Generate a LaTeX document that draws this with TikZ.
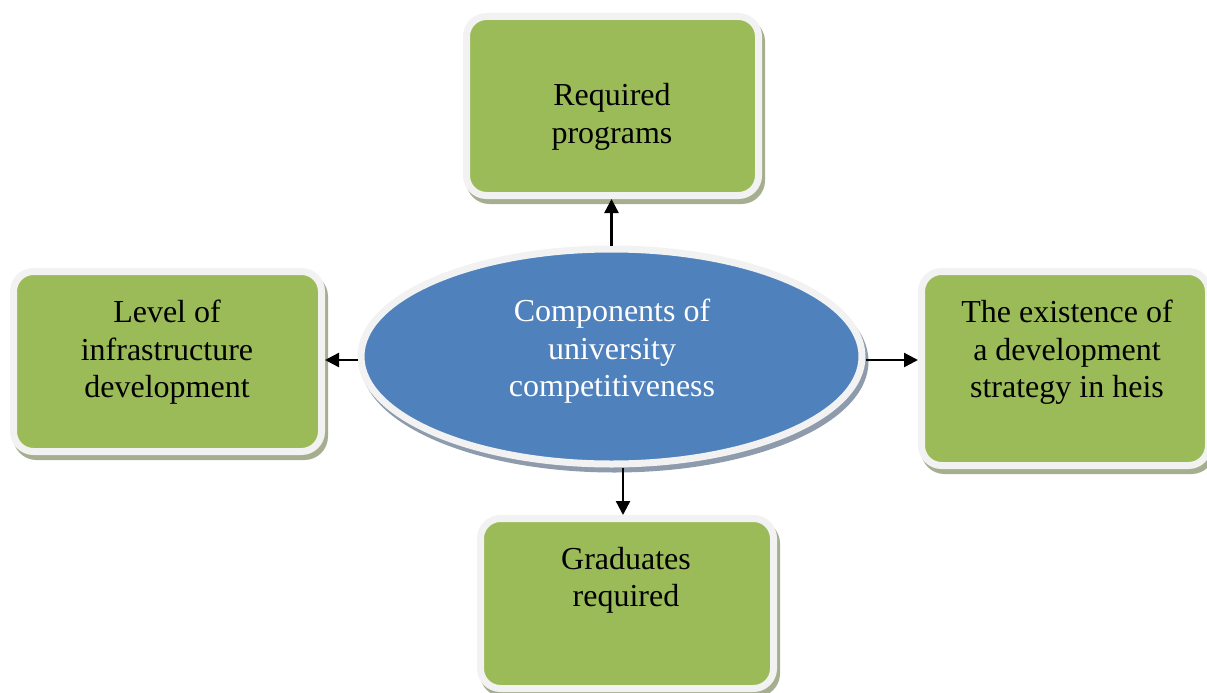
\documentclass[tikz,border=0pt]{standalone}
\usepackage{fontspec}
\setmainfont{Liberation Serif}
\usetikzlibrary{shapes.geometric,shadows,arrows.meta}

\definecolor{boxgreen}{RGB}{155,187,89}
\definecolor{ellblue}{RGB}{79,129,189}
\definecolor{rimgray}{RGB}{242,242,242}
\definecolor{shgreen}{RGB}{165,174,142}
\definecolor{shblue}{RGB}{142,155,173}

\begin{document}
\begin{tikzpicture}[x=1pt,y=1pt,yscale=-1,xscale=1,
  box/.style={rectangle, rounded corners=20pt, fill=boxgreen, draw=rimgray, line width=7pt, inner sep=0pt,
    drop shadow={shadow xshift=3pt, shadow yshift=-5pt, fill=shgreen, draw=shgreen, line width=7pt, opacity=1}},
  ell/.style={ellipse, fill=ellblue, draw=rimgray, line width=7pt, inner sep=0pt,
    drop shadow={shadow xshift=3pt, shadow yshift=-5pt, fill=shblue, draw=shblue, line width=7pt, opacity=1}},
  txt/.style={align=center, font=\fontsize{32}{37.5}\selectfont},
  conn/.style={line width=2.4pt, -{Triangle[length=14pt,width=14pt]}}]
\useasboundingbox (0,0) rectangle (1207,693); %page 1207 x 693

%Shape: Rounded Rect [top]
\node[box, minimum width=292pt, minimum height=179pt] (prog) at (612.5,106) {};
%Shape: Rounded Rect [left]
\node[box, minimum width=308pt, minimum height=180pt] (infra) at (167.5,361.5) {};
%Shape: Rounded Rect [right]
\node[box, minimum width=287pt, minimum height=194pt] (strat) at (1065,368.5) {};
%Shape: Rounded Rect [bottom]
\node[box, minimum width=293pt, minimum height=170pt] (grad) at (627,603.5) {};
%Shape: Ellipse [centre]
\node[ell, minimum width=501pt, minimum height=215pt] (comp) at (611.5,356.5) {};

%Straight Lines
\draw[conn] (comp.north) -- (comp.north |- prog.south);
\coordinate (infraOut) at (comp.west |- 0,360);
\draw[conn] (infraOut) -- (infraOut -| infra.east);
\coordinate (stratOut) at (comp.east |- 0,360);
\draw[conn] (stratOut) -- (stratOut -| strat.west);
\coordinate (gradIn) at ([xshift=11.5pt]comp.south);
\draw[conn] (gradIn) -- (gradIn |- grad.north);

% Text Node
\node[txt] (progT) at (612,117) {Required\\programs};
% Text Node
\node[txt] (infraT) at (167,352.5) {Level of\\infrastructure\\development};
% Text Node
\node[txt] (stratT) at (1067,352.5) {The existence of\\a development\\strategy in heis};
% Text Node
\node[txt] (gradT) at (626,580.5) {Graduates\\required};
% Text Node
\node[txt, text=white] (compT) at (612,351.5) {Components of\\university\\competitiveness};
\end{tikzpicture}
\end{document}
